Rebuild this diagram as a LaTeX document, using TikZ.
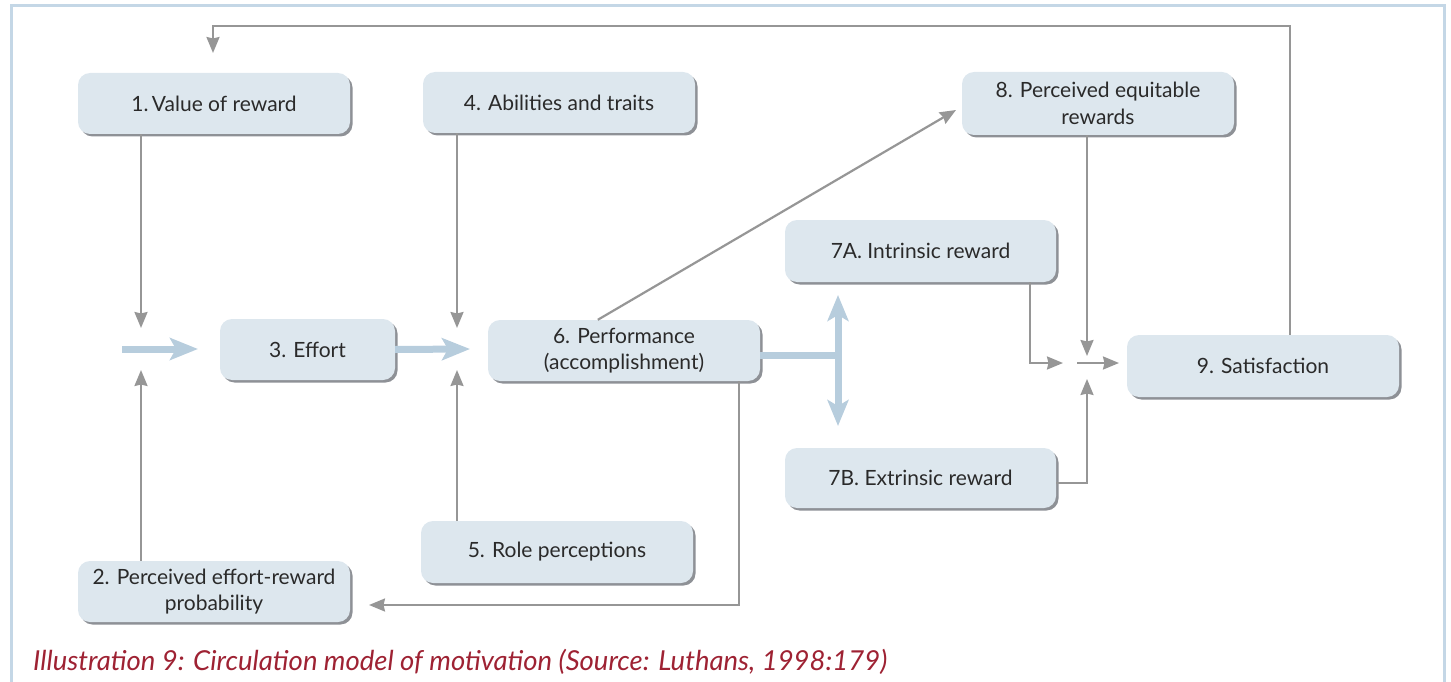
\documentclass[tikz,border=0pt]{standalone}
\usepackage{fontspec}
\setmainfont{Lato}
\usetikzlibrary{arrows.meta,shadows}
\definecolor{boxfill}{HTML}{DDE7EE}
\definecolor{boxshade}{HTML}{8E9196}
\definecolor{linkgray}{HTML}{969696}
\definecolor{flowblue}{HTML}{B7CDDD}
\definecolor{framecol}{HTML}{C4D7E6}
\definecolor{textgray}{HTML}{2A2A2A}
\definecolor{captionred}{HTML}{9E2233}
\tikzset{
  stage/.style={rectangle, rounded corners=12pt, fill=boxfill, text=textgray,
    minimum width=272pt, minimum height=61pt, align=center, inner sep=2pt,
    font=\fontsize{21}{26.5}\selectfont,
    general shadow={fill=boxshade, shadow xshift=2.5pt, shadow yshift=-2.5pt}},
  link/.style={draw=linkgray, line width=2.2pt,
    -{Stealth[length=16pt,width=13pt,inset=1.5pt]}},
  flow/.style={draw=flowblue, line width=7pt,
    -{Stealth[length=28pt,width=22pt,inset=6pt]}},
  flowline/.style={draw=flowblue, line width=7pt},
  flowboth/.style={draw=flowblue, line width=7pt,
    {Stealth[length=26pt,width=21pt,inset=6pt]}-{Stealth[length=26pt,width=21pt,inset=6pt]}}
}
\begin{document}
\begin{tikzpicture}[x=1pt,y=-1pt]
\useasboundingbox (0,0) rectangle (1451,682);
% outer frame, open at the bottom edge of the page
\draw[framecol, line width=3pt] (11,682) -- (11,6) -- (1444,6) -- (1444,682);

% stages of the model
\node[stage] (n1) at (214,103.5) {1.\,Value of reward};
\node[stage] (n4) at (559,102.5) {4. Abilities and traits};
\node[stage, minimum height=63pt] (n8) at (1098,103.5) {8. Perceived equitable\\rewards};
\node[stage, minimum width=271pt, minimum height=62pt] (n7a) at (920.5,251) {7A. Intrinsic reward};
\node[stage] (n6) at (624,350.5) {6. Performance\\(accomplishment)};
\node[stage, minimum width=175pt] (n3) at (307.5,349.5) {3. Effort};
\node[stage, minimum height=62pt] (n9) at (1263,366) {9. Satisfaction};
\node[stage, minimum width=271pt, minimum height=60pt] (n7b) at (920.5,478) {7B. Extrinsic reward};
\node[stage, minimum height=62pt] (n5) at (557,552) {5. Role perceptions};
\node[stage] (n2) at (214,591.5) {2. Perceived effort-reward\\probability};

% junction points
\coordinate (jaTop) at (141,328);
\coordinate (jaBot) at (141,370);
\coordinate (jaIn) at (122,349);
\coordinate (jaOut) at (198,349);
\coordinate (jbTop) at (457,328);
\coordinate (jbBot) at (457,370);
\coordinate (jbIn) at (470,349);
\coordinate (split) at (838,355);
\coordinate (splitUp) at (838,295);
\coordinate (splitDown) at (838,426);
\coordinate (to8) at (956,110);
\coordinate (c6down) at (739,605);
\coordinate (to2) at (369,605);
\coordinate (c7a) at (1030,363);
\coordinate (j7a) at (1063,363);
\coordinate (j8) at (1087,356);
\coordinate (c7b) at (1087,483);
\coordinate (j7b) at (1087,379);
\coordinate (jcIn) at (1077,363);
\coordinate (jcOut) at (1119,363);
\coordinate (loopTop) at (1290,26);
\coordinate (loopEnd) at (213,53);

% gray influence links
\draw[link] (n1.south -| jaTop) -- (jaTop);
\draw[link] (n2.north -| jaBot) -- (jaBot);
\draw[link] (n4.south -| jbTop) -- (jbTop);
\draw[link] (n5.north -| jbBot) -- (jbBot);
\draw[link] (n6.north west) ++(110,0) -- (to8);
\draw[link] (n6.south -| c6down) -- (c6down) -- (to2);
\draw[link] (n7a.south -| c7a) -- (c7a) -- (j7a);
\draw[link] (n8.south -| j8) -- (j8);
\draw[link] (n7b.east |- c7b) -- (c7b) -- (j7b);
\draw[link] (jcIn) -- (jcOut);
\draw[link] (n9.north -| loopTop) -- (loopTop) -- (loopTop -| loopEnd) -- (loopEnd);

% main flow
\draw[flow] (jaIn) -- (jaOut);
\draw[flow] (n3.east) -- (jbIn);
\draw[flowline] (n6.east |- split) -- ([xshift=3.5pt]split);
\draw[flowboth] (splitUp) -- (splitDown);

% caption
\node[anchor=base west, text=captionred, inner sep=0pt,
  font=\itshape\fontsize{27.5}{32}\selectfont] (cap) at (33,670)
  {Illustration 9: Circulation model of motivation (Source: Luthans, 1998:179)};
\end{tikzpicture}
\end{document}
